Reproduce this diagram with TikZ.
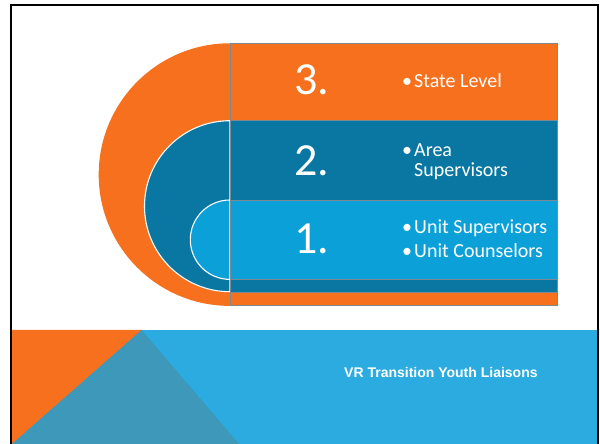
\documentclass[tikz,border=0pt]{standalone}
\usepackage{fontspec}
\setmainfont{Carlito}
\newfontfamily\bannerfont{Liberation Sans}
\definecolor{orng}{HTML}{F7701E}
\definecolor{dteal}{HTML}{0A77A2}
\definecolor{lblue}{HTML}{0BA1D8}
\definecolor{bandblue}{HTML}{2BABDF}
\definecolor{graytri}{HTML}{3E98BA}
\definecolor{bordergray}{HTML}{7F8A90}
\tikzset{
  band/.style={draw=bordergray, line width=0.9pt},
  digit/.style={text=white, font=\fontsize{46}{46}\selectfont, inner sep=0pt, anchor=base},
  item/.style={text=white, font=\fontsize{20}{20}\selectfont, inner sep=0pt, anchor=base west},
  bul/.style={text=white, font=\fontsize{20}{20}\selectfont, inner sep=0pt, anchor=base west},
  halfdisc/.style={draw=white, line width=1.1pt}
}
\begin{document}
\begin{tikzpicture}[x=1pt,y=1pt]
\useasboundingbox (0,0) rectangle (600,444);
\fill[white] (0,0) rectangle (600,444);
% half discs
\fill[orng] (230,400.7) arc[start angle=90,end angle=270,radius=131.3] -- cycle;
\filldraw[halfdisc, fill=dteal] (230,323.3) arc[start angle=90,end angle=270,radius=85.5] -- cycle;
\filldraw[halfdisc, fill=lblue] (230,244) arc[start angle=90,end angle=270,radius=39.7] -- cycle;
% bands
\filldraw[band, fill=orng] (230,400.7) rectangle (557.3,323.3);
\filldraw[band, fill=dteal] (230,323.3) rectangle (557.3,244);
\filldraw[band, fill=lblue] (230,244) rectangle (557.3,164.7);
\filldraw[band, fill=dteal] (230,164.7) rectangle (557.3,152);
\filldraw[band, fill=orng] (230,152) rectangle (557.3,138.5);
% digits
\node[digit] (d3) at (312,349) {3.};
\node[digit] (d2) at (312,268.3) {2.};
\node[digit] (d1) at (312,190.7) {1.};
% items
\node[bul] (b3) at (402,356) {\textbullet};
\node[item] (t3) at (414,356) {State Level};
\node[bul] (b2) at (402,287.3) {\textbullet};
\node[item] (t2a) at (414,287.3) {Area};
\node[item] (t2b) at (414,267.3) {Supervisors};
\node[bul] (b1a) at (402,210) {\textbullet};
\node[item] (t1a) at (414,210) {Unit Supervisors};
\node[bul] (b1b) at (402,186.3) {\textbullet};
\node[item] (t1b) at (414,186.3) {Unit Counselors};
% bottom banner
\fill[bandblue] (12,0) rectangle (598,114);
\fill[orng] (12,114) -- (141.6,114) -- (12,0) -- cycle;
\fill[graytri] (141.6,114) -- (12,0) -- (239,0) -- cycle;
\node[text=white, font=\bannerfont\bfseries\fontsize{14}{14}\selectfont, inner sep=0pt, anchor=base west] (vr) at (344,66.7) {VR Transition Youth Liaisons};
% frame
\draw[black, line width=2pt] (11,-2) -- (11,439) -- (598,439) -- (598,-2);
\end{tikzpicture}
\end{document}
